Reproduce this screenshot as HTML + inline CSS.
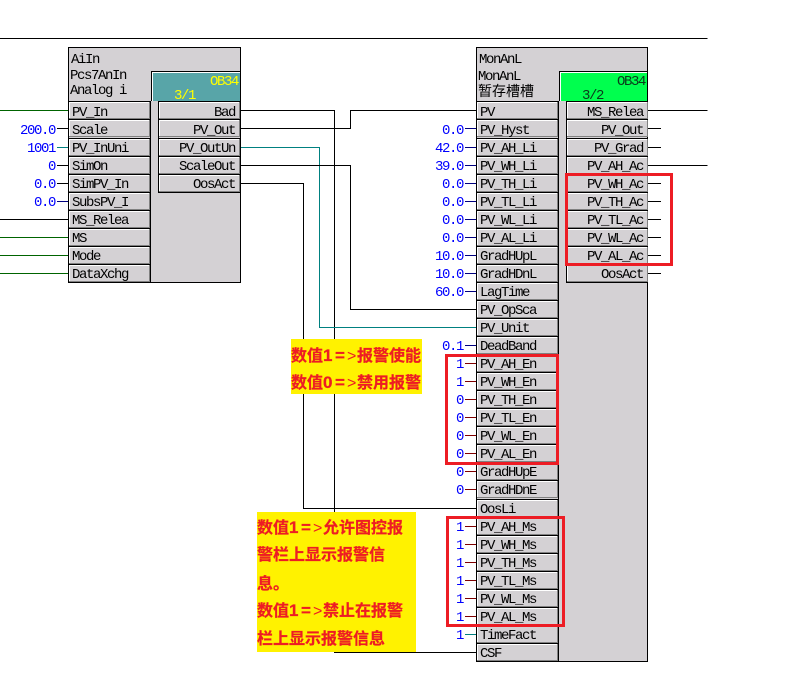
<!DOCTYPE html>
<html><head><meta charset="utf-8"><style>
html,body{margin:0;padding:0;background:#fff;width:800px;height:684px;overflow:hidden}
svg{display:block}
text{font-family:"Liberation Mono","Noto Sans CJK SC",monospace;font-size:14px;letter-spacing:-1.4px;fill:#000}
.v{fill:#0000ff;text-anchor:end}
.e{text-anchor:end}
.r{font-family:"Liberation Sans","Noto Sans CJK SC",sans-serif;font-weight:700;font-size:16px;letter-spacing:0;fill:#ed1c24;stroke:#ed1c24;stroke-width:.25}
.r .d{font-size:17px}
.r .l{font-weight:400;stroke:none}
.w{fill:none;stroke:#000;stroke-width:1;shape-rendering:crispEdges}
.g{stroke:#006400}.t{stroke:#008080}.n{stroke:#000080}.m{stroke:#800000}
</style></head><body>
<svg width="800" height="684" viewBox="0 0 800 684" xmlns="http://www.w3.org/2000/svg">
<defs><g id="c" shape-rendering="crispEdges">
<rect x="0" y="0" width="81" height="1" fill="#000"/>
<rect x="0" y="1" width="81" height="1" fill="#fff"/>
<rect x="0" y="1" width="1" height="17" fill="#fff"/>
<rect x="0" y="17" width="81" height="1" fill="#808080"/>
<rect x="80" y="1" width="1" height="17" fill="#808080"/>
</g></defs>

<path class="w" d="M0 38.5H707.5"/>
<path class="w g" d="M0 110.5H68M0 237.5H68M0 255.5H68M0 273.5H68"/>
<path class="w" d="M0 219.5H68"/>
<path class="w" d="M57 128.5H68M57 165.5H68M57 183.5H68"/>
<path class="w t" d="M57 147.5H68"/>
<path class="w n" d="M57 201.5H68"/>

<path class="w" d="M240 110.5H334.5V652.5H476"/>
<path class="w" d="M240 128.5H350.5V110.5H476"/>
<path class="w t" d="M240 147.5H319.5V327.5H476"/>
<path class="w" d="M240 165.5H350.5V309.5H476"/>
<path class="w" d="M240 183.5H303.5V508.5H476"/>

<path class="w n" d="M465 128.5H476M465 147.5H476M465 165.5H476M465 183.5H476M465 201.5H476M465 219.5H476M465 237.5H476M465 255.5H476M465 273.5H476M465 291.5H476M465 345.5H476"/>
<path class="w m" d="M465 363.5H476M465 381.5H476M465 399.5H476M465 417.5H476M465 435.5H476M465 453.5H476M465 471.5H476M465 489.5H476M465 526.5H476M465 544.5H476M465 562.5H476M465 580.5H476M465 598.5H476M465 616.5H476"/>
<path class="w t" d="M465 634.5H476"/>
<path class="w" d="M647 110.5H707.5M647 165.5H707.5M647 128.5H661M647 147.5H661M647 183.5H661M647 201.5H661M647 219.5H661M647 237.5H661M647 255.5H661M647 273.5H661"/>

<!-- left block -->
<rect x="68.5" y="47.5" width="172" height="235" fill="#d4d1d4" stroke="#000" shape-rendering="crispEdges"/>
<use href="#c" x="69" y="101"/><use href="#c" x="69" y="119"/><use href="#c" x="69" y="138"/><use href="#c" x="69" y="156"/><use href="#c" x="69" y="174"/><use href="#c" x="69" y="192"/><use href="#c" x="69" y="210"/><use href="#c" x="69" y="228"/><use href="#c" x="69" y="246"/><use href="#c" x="69" y="264"/>
<use href="#c" x="159" y="101"/><use href="#c" x="159" y="119"/><use href="#c" x="159" y="138"/><use href="#c" x="159" y="156"/><use href="#c" x="159" y="174"/>
<path class="w" d="M150.5 101V282M158.5 101V192.5H240"/>
<rect x="151" y="71" width="89" height="30" fill="#fff" shape-rendering="crispEdges"/>
<path class="w" d="M151.5 101V71.5H240"/>
<rect x="153" y="73" width="87" height="28" fill="#58a5a8" shape-rendering="crispEdges"/>
<text x="71" y="63">AiIn</text>
<text x="70" y="79">Pcs7AnIn</text>
<text x="70" y="94">Analog i</text>
<text class="e" x="238" y="85" style="fill:#ffff00">OB34</text>
<text x="174" y="99" style="fill:#ffff00">3/1</text>

<text x="72" y="116">PV_In</text><text x="72" y="134">Scale</text><text x="72" y="152">PV_InUni</text><text x="72" y="170">SimOn</text><text x="72" y="188">SimPV_In</text><text x="72" y="206">SubsPV_I</text><text x="72" y="224">MS_Relea</text><text x="72" y="242">MS</text><text x="72" y="260">Mode</text><text x="72" y="278">DataXchg</text>
<text class="e" x="235" y="116">Bad</text><text class="e" x="235" y="134">PV_Out</text><text class="e" x="235" y="152">PV_OutUn</text><text class="e" x="235" y="170">ScaleOut</text><text class="e" x="235" y="188">OosAct</text>
<text class="v" x="55" y="134">200.0</text><text class="v" x="55" y="152">1001</text><text class="v" x="55" y="170">0</text><text class="v" x="55" y="188">0.0</text><text class="v" x="55" y="206">0.0</text>

<!-- right block -->
<rect x="476.5" y="47.5" width="171" height="614" fill="#d4d1d4" stroke="#000" shape-rendering="crispEdges"/>
<use href="#c" x="477" y="101"/><use href="#c" x="477" y="119"/><use href="#c" x="477" y="138"/><use href="#c" x="477" y="156"/><use href="#c" x="477" y="174"/><use href="#c" x="477" y="192"/><use href="#c" x="477" y="210"/><use href="#c" x="477" y="228"/><use href="#c" x="477" y="246"/><use href="#c" x="477" y="264"/><use href="#c" x="477" y="282"/><use href="#c" x="477" y="300"/><use href="#c" x="477" y="318"/><use href="#c" x="477" y="336"/><use href="#c" x="477" y="354"/><use href="#c" x="477" y="372"/><use href="#c" x="477" y="390"/><use href="#c" x="477" y="408"/><use href="#c" x="477" y="426"/><use href="#c" x="477" y="444"/><use href="#c" x="477" y="462"/><use href="#c" x="477" y="480"/><use href="#c" x="477" y="499"/><use href="#c" x="477" y="517"/><use href="#c" x="477" y="535"/><use href="#c" x="477" y="553"/><use href="#c" x="477" y="571"/><use href="#c" x="477" y="589"/><use href="#c" x="477" y="607"/><use href="#c" x="477" y="625"/><use href="#c" x="477" y="643"/>
<use href="#c" x="567" y="101"/><use href="#c" x="567" y="119"/><use href="#c" x="567" y="138"/><use href="#c" x="567" y="156"/><use href="#c" x="567" y="174"/><use href="#c" x="567" y="192"/><use href="#c" x="567" y="210"/><use href="#c" x="567" y="228"/><use href="#c" x="567" y="246"/><use href="#c" x="567" y="264"/>
<path class="w" d="M558.5 101V661M566.5 101V282.5H647"/>
<rect x="559" y="71" width="88" height="30" fill="#fff" shape-rendering="crispEdges"/>
<path class="w" d="M559.5 101V71.5H647"/>
<rect x="561" y="73" width="86" height="28" fill="#00ff4e" shape-rendering="crispEdges"/>
<text x="479" y="63">MonAnL</text>
<text x="478" y="80">MonAnL</text>
<text x="478" y="96" style="font-family:'Noto Sans CJK SC',sans-serif;font-size:14px;letter-spacing:0;font-weight:400">暂存槽槽</text>
<text class="e" x="645" y="85" style="fill:#0a3a1a">OB34</text>
<text x="582" y="99" style="fill:#0a3a1a">3/2</text>

<text x="480" y="116">PV</text><text x="480" y="134">PV_Hyst</text><text x="480" y="152">PV_AH_Li</text><text x="480" y="170">PV_WH_Li</text><text x="480" y="188">PV_TH_Li</text><text x="480" y="206">PV_TL_Li</text><text x="480" y="224">PV_WL_Li</text><text x="480" y="242">PV_AL_Li</text><text x="480" y="260">GradHUpL</text><text x="480" y="278">GradHDnL</text><text x="480" y="296">LagTime</text><text x="480" y="314">PV_OpSca</text><text x="480" y="332">PV_Unit</text><text x="480" y="350">DeadBand</text><text x="480" y="368">PV_AH_En</text><text x="480" y="386">PV_WH_En</text><text x="480" y="404">PV_TH_En</text><text x="480" y="422">PV_TL_En</text><text x="480" y="440">PV_WL_En</text><text x="480" y="458">PV_AL_En</text><text x="480" y="476">GradHUpE</text><text x="480" y="494">GradHDnE</text><text x="480" y="513">OosLi</text><text x="480" y="531">PV_AH_Ms</text><text x="480" y="549">PV_WH_Ms</text><text x="480" y="567">PV_TH_Ms</text><text x="480" y="585">PV_TL_Ms</text><text x="480" y="603">PV_WL_Ms</text><text x="480" y="621">PV_AL_Ms</text><text x="480" y="639">TimeFact</text><text x="480" y="657">CSF</text>

<text class="e" x="643" y="116">MS_Relea</text><text class="e" x="643" y="134">PV_Out</text><text class="e" x="643" y="152">PV_Grad</text><text class="e" x="643" y="170">PV_AH_Ac</text><text class="e" x="643" y="188">PV_WH_Ac</text><text class="e" x="643" y="206">PV_TH_Ac</text><text class="e" x="643" y="224">PV_TL_Ac</text><text class="e" x="643" y="242">PV_WL_Ac</text><text class="e" x="643" y="260">PV_AL_Ac</text><text class="e" x="643" y="278">OosAct</text>

<text class="v" x="463" y="134">0.0</text><text class="v" x="463" y="152">42.0</text><text class="v" x="463" y="170">39.0</text><text class="v" x="463" y="188">0.0</text><text class="v" x="463" y="206">0.0</text><text class="v" x="463" y="224">0.0</text><text class="v" x="463" y="242">0.0</text><text class="v" x="463" y="260">10.0</text><text class="v" x="463" y="278">10.0</text><text class="v" x="463" y="296">60.0</text><text class="v" x="463" y="350">0.1</text><text class="v" x="463" y="368">1</text><text class="v" x="463" y="386">1</text><text class="v" x="463" y="404">0</text><text class="v" x="463" y="422">0</text><text class="v" x="463" y="440">0</text><text class="v" x="463" y="458">0</text><text class="v" x="463" y="476">0</text><text class="v" x="463" y="494">0</text><text class="v" x="463" y="531">1</text><text class="v" x="463" y="549">1</text><text class="v" x="463" y="567">1</text><text class="v" x="463" y="585">1</text><text class="v" x="463" y="603">1</text><text class="v" x="463" y="621">1</text><text class="v" x="463" y="639">1</text>

<!-- annotations -->
<rect x="291" y="339" width="131" height="55" fill="#fff200"/>
<text class="r" x="291" y="361">数值<tspan class="d" x="323">1</tspan><tspan class="d" x="335">=</tspan><tspan class="l" x="347">&gt;</tspan><tspan x="357">报警使能</tspan></text>
<text class="r" x="291" y="388">数值<tspan class="d" x="323">0</tspan><tspan class="d" x="335">=</tspan><tspan class="l" x="347">&gt;</tspan><tspan x="357">禁用报警</tspan></text>
<rect x="257" y="512" width="159" height="140" fill="#fff200"/>
<text class="r" x="257" y="533">数值<tspan class="d" x="289">1</tspan><tspan class="d" x="301">=</tspan><tspan class="l" x="313">&gt;</tspan><tspan x="323">允许图控报</tspan></text>
<text class="r" x="257" y="560">警栏上显示报警信</text>
<text class="r" x="257" y="589">息。</text>
<text class="r" x="257" y="616">数值<tspan class="d" x="289">1</tspan><tspan class="d" x="301">=</tspan><tspan class="l" x="313">&gt;</tspan><tspan x="323">禁止在报警</tspan></text>
<text class="r" x="257" y="644">栏上显示报警信息</text>
<path class="w" d="M334 652.5H476"/>

<g fill="none" stroke="#ed1c24" stroke-width="3" shape-rendering="crispEdges">
<rect x="566.5" y="174.5" width="105" height="90"/>
<rect x="446.5" y="355.5" width="111" height="108"/>
<rect x="447.5" y="517.5" width="116" height="108"/>
</g>
</svg>
</body></html>
